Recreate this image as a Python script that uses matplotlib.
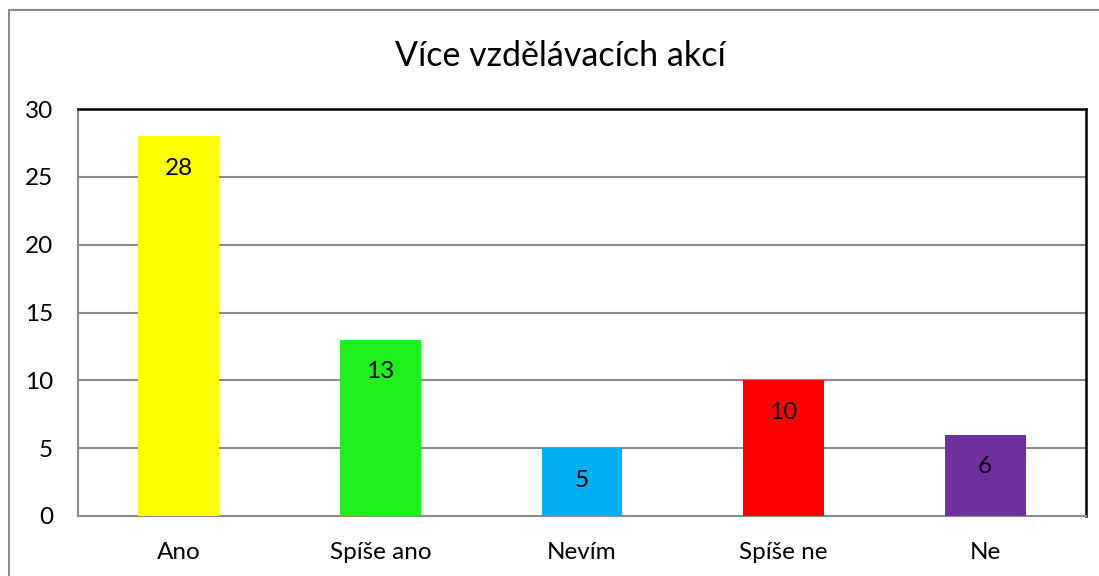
import matplotlib
matplotlib.use("Agg")
import matplotlib.pyplot as plt
from matplotlib.patches import Rectangle

categories = ["Ano", "Spíše ano", "Nevím", "Spíše ne", "Ne"]
values = [28, 13, 5, 10, 6]
colors = ["#FFFF00", "#1EF01E", "#00B0F0", "#FF0000", "#7030A0"]
yticks = [0, 5, 10, 15, 20, 25, 30]
title = "Více vzdělávacích akcí"

plt.rcParams['font.family'] = ['Lato', 'DejaVu Sans']

fig = plt.figure(figsize=(10.99, 5.76), dpi=100)
W, H = 1099, 576
ax = fig.add_axes([78 / W, 1 - 516 / H, (1086 - 78) / W, (516 - 109) / H])

x = range(len(categories))
ax.bar(x, values, width=0.40, color=colors, zorder=3)
ax.set_xlim(-0.5, len(categories) - 0.5)
ax.set_ylim(0, 30)
ax.set_yticks(yticks)
ax.set_xticks(list(x))
ax.set_xticklabels(categories)
ax.tick_params(axis='both', length=0, labelsize=17.5)
ax.tick_params(axis='x', pad=19)
ax.tick_params(axis='y', pad=18)
ax.grid(axis='y', color='#8c8c8c', linewidth=1.5, zorder=0)

for s in ['left', 'bottom']:
    ax.spines[s].set_color('#8c8c8c')
    ax.spines[s].set_linewidth(1.5)
for s in ['top', 'right']:
    ax.spines[s].set_color('black')
    ax.spines[s].set_linewidth(1.8)

for xi, v in zip(x, values):
    ax.text(xi, v - 2.35, str(v), ha='center', va='center', fontsize=17.5, zorder=4)

fig.text(560 / W, 1 - 56 / H, title, ha='center', va='center', fontsize=24.5)

fig.patches.append(Rectangle((9 / W, -0.1), 1.2, 1 - 10 / H + 0.1,
                             transform=fig.transFigure, fill=False,
                             edgecolor='#8c8c8c', linewidth=1.5))

fig.savefig("out.png", dpi=100)
